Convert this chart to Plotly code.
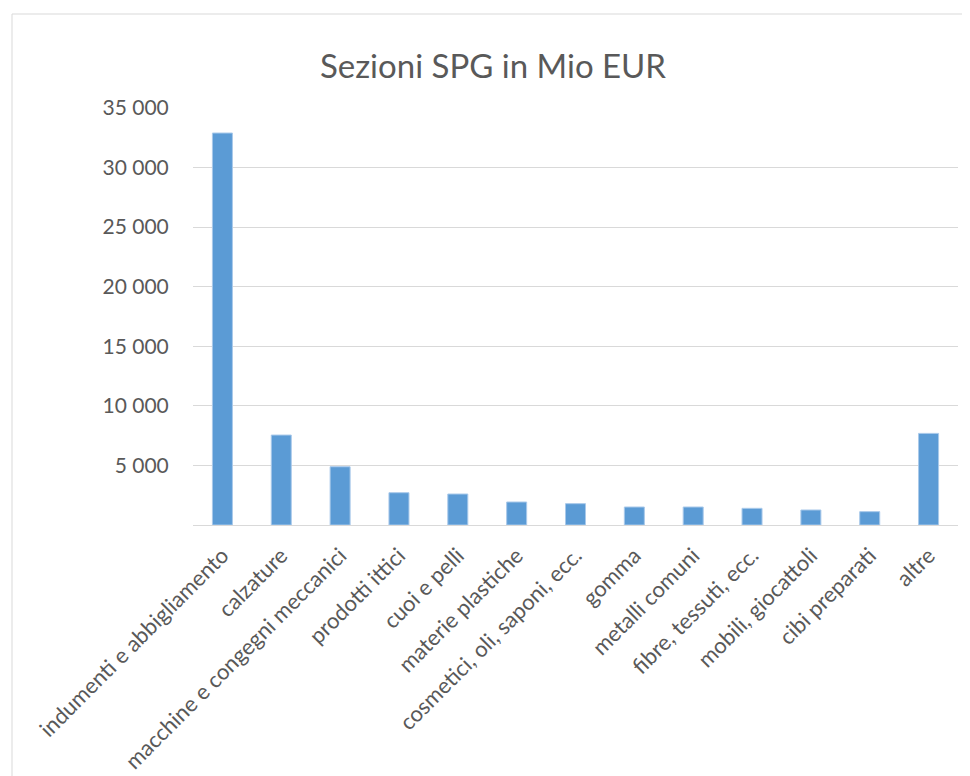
import plotly.graph_objects as go

categories = [
    "indumenti e abbigliamento", "calzature", "macchine e congegni meccanici",
    "prodotti ittici", "cuoi e pelli", "materie plastiche",
    "cosmetici, oli, saponi, ecc.", "gomma", "metalli comuni",
    "fibre, tessuti, ecc.", "mobili, giocattoli", "cibi preparati", "altre",
]
values = [32900, 7550, 4890, 2710, 2600, 1930, 1790, 1510, 1510, 1400, 1260, 1120, 7690]
y_tickvals = [5000, 10000, 15000, 20000, 25000, 30000, 35000]
y_ticktext = ["5 000", "10 000", "15 000", "20 000", "25 000", "30 000", "35 000"]
title_text = "Sezioni SPG in Mio EUR"

FONT = "Lato, 'Open Sans', sans-serif"
TXT = "#595959"

fig = go.Figure(go.Bar(
    x=categories, y=values,
    marker=dict(color="#5B9BD5", line=dict(color="#A9C9EA", width=1)),
))

# page body has an 8px margin; figure coords = screen coords - 8
OFF = 8
W, H = 962, 768
L, R, T, B = 193 - OFF, W - (958 - OFF), 108 - OFF, H - (525 - OFF)
pw, ph = W - L - R, H - T - B

fig.update_layout(
    width=W, height=H,
    margin=dict(l=L, r=R, t=T, b=B, autoexpand=False),
    paper_bgcolor="white", plot_bgcolor="white",
    bargap=0.66,
    showlegend=False,
    font=dict(family=FONT, color=TXT),
    title=dict(text=title_text, x=(493 - OFF) / W, xanchor="center",
               y=1 - (66 - OFF) / H, yanchor="middle",
               font=dict(family=FONT, size=33, color=TXT)),
    xaxis=dict(showgrid=False, showline=True, linecolor="#D9D9D9", linewidth=1,
               tickangle=-45, ticks="outside", ticklen=8, tickcolor="rgba(0,0,0,0)",
               tickfont=dict(size=22, color=TXT, family=FONT)),
    yaxis=dict(range=[0, 35000], tickvals=y_tickvals, ticktext=y_ticktext,
               showgrid=True, gridcolor="#D9D9D9", gridwidth=1, zeroline=False,
               showline=False, ticks="outside", ticklen=19, tickcolor="rgba(0,0,0,0)",
               tickfont=dict(size=21, color=TXT, family=FONT)),
    shapes=[dict(type="rect", xref="paper", yref="paper",
                 x0=(12 - 193) / pw, x1=1 + 40 / pw,
                 y0=-(B + 40) / ph, y1=1 + (108 - 14) / ph,
                 line=dict(color="#D9D9D9", width=1), fillcolor="rgba(0,0,0,0)",
                 layer="below")],
)

fig.write_html("out.html")
